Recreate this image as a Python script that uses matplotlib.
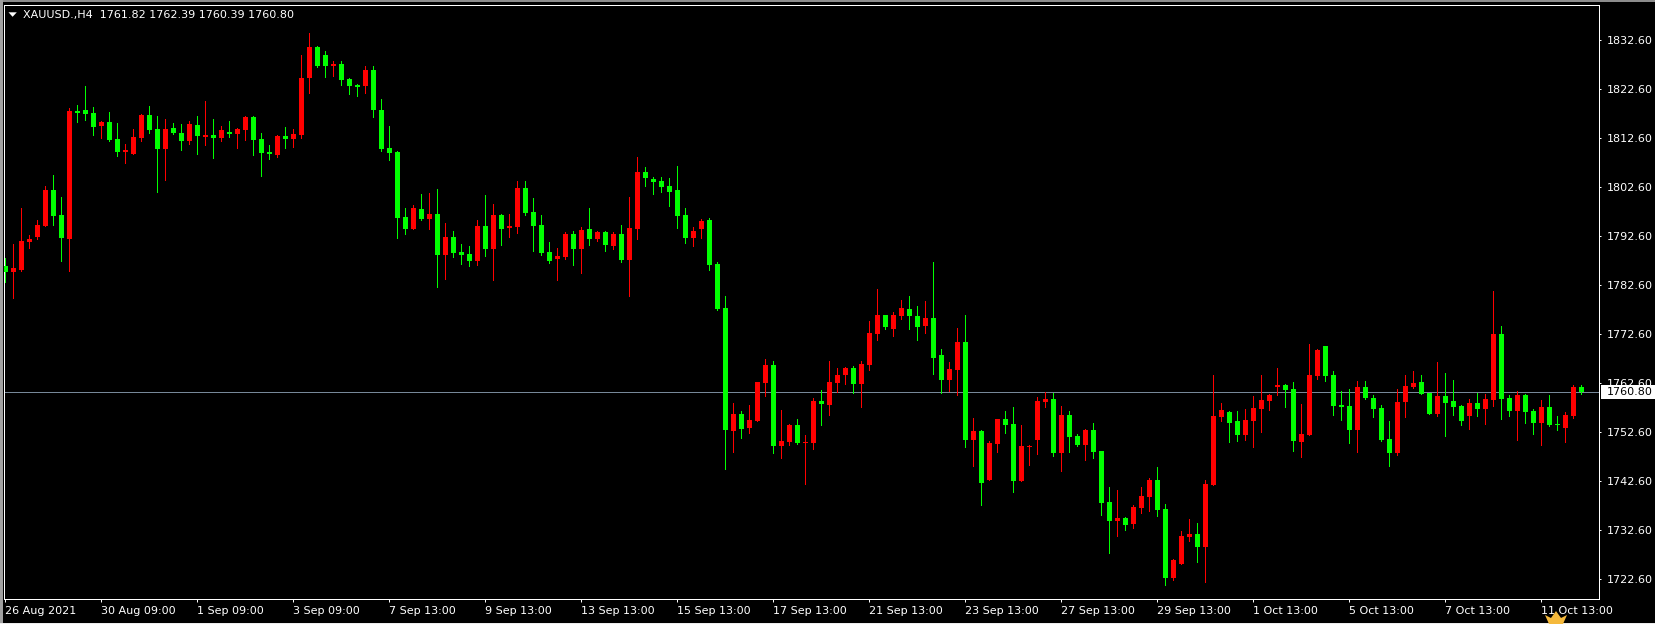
import matplotlib
matplotlib.use("Agg")
import matplotlib.pyplot as plt
from matplotlib.patches import Rectangle, Polygon

# candle colours, one per candle: r = close above open, g = close below open
directions = (
    "g r r r r r g g r g  g g r g g r r r g g  r g g r g r g r g r  r g g g r g r r r g  g r g g g r g g g g"
    " g r g r g r g g g r  g r g r r g g g g r  r g r g r g r g r r  g g g g g g r r g g  g r g r r r g r r g"
    " r r g r r r g r r r  g r r g g r g g r r  g r g r r g g r r r  r g r g g r g g g r  g r r r g g r r r g"
    " r r r g g r r r r r  g g r r r g g g g r  g g g g r r r g g r  g g g r g r r g g r  g g r g g r r g"
).split()

highs = [1788.14,1791.06,1798.41,1792.90,1795.96,1802.90,1805.15,1800.66,1818.82,1819.43,1823.31,1819.02,1816.17,1818.00,1815.76,1811.47,1814.53,1817.59,1819.23,1817.19,1816.57,1815.76,1815.55,1816.17,1817.19,1820.25,1816.57,1815.15,1816.17,1814.74,1817.19,1817.19,1813.72,1811.27,1813.31,1814.94,1814.53,1829.64,1834.13,1831.47,1830.45,1828.41,1828.41,1824.94,1823.72,1827.39,1827.39,1820.66,1815.15,1810.04,
 1798.41,1799.02,1801.27,1801.47,1802.29,1795.35,1793.72,1791.06,1790.66,1795.96,1801.06,1799.23,1797.19,1797.19,1803.92,1803.92,1800.45,1796.98,1791.47,1790.25,1793.51,1793.72,1794.53,1798.41,1793.72,1793.72,1793.51,1794.94,1800.66,1808.82,1806.78,1804.74,1804.74,1804.53,1806.98,1798.41,1794.53,1796.17,1796.37,1787.39,1780.45,1758.61,1756.98,1758.20,1762.90,1767.59,1767.18,1757.18,1754.33,1755.35,
 1752.08,1759.64,1761.27,1767.19,1765.76,1765.96,1766.17,1767.19,1775.35,1781.88,1776.57,1777.19,1779.64,1780.45,1778.41,1779.43,1787.39,1769.64,1766.98,1773.92,1776.57,1755.55,1753.10,1750.86,1755.35,1756.98,1757.80,1754.12,1750.04,1759.84,1760.86,1760.66,1758.00,1756.98,1752.29,1753.31,1754.53,1748.82,1741.47,1740.86,1735.35,1737.80,1741.47,1743.31,1745.55,1738.00,1726.78,1732.49,1734.94,1734.12,
 1742.90,1764.33,1758.62,1756.98,1756.98,1757.39,1760.05,1764.33,1760.45,1765.76,1762.49,1762.90,1758.41,1770.66,1769.64,1770.25,1765.15,1761.07,1761.47,1763.11,1763.11,1760.25,1758.21,1754.94,1761.47,1764.33,1765.15,1764.33,1760.66,1766.98,1764.74,1763.31,1758.21,1759.43,1760.66,1760.45,1781.47,1774.33,1760.25,1761.07,1760.45,1757.39,1759.23,1760.25,1755.96,1756.78,1762.29,1762.39]

body_tops = [1786.57,1786.17,1791.68,1792.08,1794.94,1802.08,1802.08,1796.98,1818.21,1818.21,1818.41,1817.80,1815.96,1815.96,1812.49,1810.25,1812.90,1817.39,1817.39,1814.53,1814.53,1814.74,1813.72,1815.55,1815.35,1813.31,1813.31,1814.33,1813.92,1814.53,1816.98,1816.98,1812.49,1809.84,1813.10,1813.10,1813.51,1824.94,1831.27,1831.27,1829.64,1827.80,1827.80,1824.74,1823.51,1826.57,1826.57,1818.41,1810.66,1809.84,
 1796.57,1798.41,1798.21,1797.19,1797.19,1792.49,1792.49,1789.43,1789.02,1794.74,1794.74,1796.98,1796.98,1794.74,1802.49,1802.49,1797.59,1794.94,1789.43,1788.61,1793.10,1793.10,1793.92,1794.13,1793.51,1793.51,1793.10,1793.10,1794.33,1805.76,1805.76,1804.33,1803.92,1802.90,1802.08,1796.98,1793.72,1795.76,1795.96,1786.98,1778.00,1756.37,1756.37,1755.14,1762.90,1766.37,1766.37,1750.86,1754.12,1754.12,
 1750.66,1759.02,1759.02,1762.90,1764.33,1765.76,1765.76,1766.57,1772.90,1776.57,1776.57,1776.57,1778.00,1777.80,1776.37,1775.96,1775.96,1768.41,1765.55,1771.06,1771.06,1752.90,1752.90,1750.45,1755.35,1755.35,1754.33,1749.84,1749.84,1759.02,1759.43,1759.43,1756.17,1756.17,1751.88,1753.10,1753.10,1748.82,1738.41,1735.15,1735.15,1737.39,1739.64,1742.90,1742.90,1736.98,1726.57,1731.47,1731.88,1731.88,
 1742.09,1755.96,1757.19,1756.78,1754.94,1755.15,1757.60,1759.23,1760.25,1762.29,1762.29,1761.47,1752.29,1764.33,1769.43,1770.25,1764.33,1758.21,1758.00,1761.88,1761.88,1759.64,1757.60,1751.27,1758.82,1762.09,1762.70,1762.90,1760.66,1760.05,1760.05,1759.03,1758.00,1758.62,1758.62,1759.43,1772.70,1772.70,1759.64,1760.25,1760.25,1756.98,1757.80,1757.80,1754.33,1756.17,1761.88,1761.82]

body_bottoms = [1785.28,1785.35,1785.76,1791.47,1792.49,1794.74,1796.78,1792.29,1792.08,1817.80,1817.59,1814.94,1815.15,1812.29,1809.84,1809.84,1809.43,1812.70,1814.33,1810.45,1810.45,1813.72,1812.08,1812.08,1813.10,1812.90,1812.70,1812.70,1813.51,1813.51,1814.33,1812.29,1809.64,1809.43,1809.23,1812.49,1812.49,1813.31,1824.94,1827.39,1827.39,1827.39,1824.53,1823.31,1823.10,1823.31,1818.41,1810.45,1809.64,1796.37,
 1794.13,1794.13,1796.17,1796.17,1788.82,1788.82,1789.23,1788.82,1787.59,1787.59,1790.04,1790.04,1794.13,1794.33,1794.53,1797.39,1794.74,1789.23,1787.59,1788.00,1788.41,1790.04,1790.04,1792.08,1792.08,1790.86,1790.66,1787.80,1787.80,1794.13,1804.53,1803.72,1802.70,1801.68,1796.78,1792.29,1792.29,1794.13,1786.78,1777.80,1753.10,1752.90,1753.31,1753.51,1754.94,1762.69,1749.84,1749.84,1750.65,1750.45,
 1750.45,1750.45,1758.41,1758.21,1762.70,1764.33,1762.49,1762.49,1766.37,1772.70,1774.12,1773.72,1776.37,1776.37,1774.12,1774.33,1767.80,1763.31,1763.31,1765.35,1751.06,1751.06,1742.29,1742.90,1750.25,1754.12,1742.70,1742.70,1749.64,1751.06,1758.82,1748.41,1748.41,1751.68,1750.04,1750.04,1748.61,1738.21,1734.53,1734.53,1733.72,1733.92,1737.19,1739.43,1736.78,1722.90,1722.90,1725.76,1731.27,1729.23,
 1729.23,1741.88,1755.76,1754.54,1752.09,1752.09,1754.94,1757.39,1759.03,1761.88,1761.27,1750.86,1750.66,1752.09,1764.13,1764.13,1758.00,1757.80,1753.11,1753.11,1759.64,1757.39,1751.07,1748.41,1748.41,1758.82,1761.88,1760.45,1756.37,1756.37,1758.62,1757.80,1754.94,1755.96,1757.39,1757.39,1759.23,1759.43,1756.98,1756.98,1756.78,1754.54,1754.54,1754.13,1754.13,1753.52,1755.96,1760.80]

lows = [1783.31,1780.04,1785.55,1790.25,1792.08,1794.74,1794.94,1787.59,1785.55,1815.96,1816.37,1813.31,1812.70,1812.08,1809.02,1807.59,1809.43,1812.08,1813.72,1801.68,1804.13,1813.51,1810.25,1811.47,1809.43,1811.27,1808.62,1812.08,1812.90,1810.66,1812.29,1809.23,1804.94,1808.41,1808.82,1810.66,1810.86,1812.70,1821.88,1827.19,1825.15,1825.35,1823.51,1821.68,1821.27,1821.88,1816.98,1810.04,1808.21,1792.29,
 1793.10,1794.13,1795.96,1794.13,1782.29,1783.92,1788.41,1786.98,1786.57,1786.78,1788.61,1783.72,1790.86,1792.49,1793.31,1796.98,1789.64,1788.82,1787.19,1783.72,1788.00,1786.78,1785.15,1790.86,1791.68,1789.64,1790.04,1787.39,1780.45,1792.08,1802.90,1801.27,1801.68,1798.82,1794.33,1791.27,1790.66,1792.29,1785.76,1777.59,1745.14,1748.61,1751.47,1752.49,1754.94,1760.04,1748.41,1747.39,1750.04,1750.25,
 1742.08,1749.23,1754.12,1756.17,1760.86,1762.49,1760.66,1757.80,1765.35,1771.47,1773.72,1772.29,1775.76,1773.72,1771.47,1772.90,1764.53,1760.66,1761.06,1760.25,1749.64,1745.76,1737.80,1742.90,1748.61,1752.49,1740.45,1742.70,1745.96,1748.21,1757.80,1747.80,1744.74,1748.61,1749.84,1746.98,1747.39,1735.76,1728.00,1731.47,1732.70,1733.10,1736.17,1736.57,1735.55,1721.47,1722.49,1725.76,1730.45,1726.17,
 1722.09,1741.88,1754.94,1750.66,1750.86,1751.07,1749.64,1752.70,1757.19,1760.25,1757.80,1748.82,1747.60,1752.09,1763.52,1763.11,1756.17,1755.15,1750.45,1748.62,1759.43,1755.76,1750.86,1745.76,1748.00,1755.76,1761.68,1760.45,1756.37,1755.96,1751.88,1756.17,1754.13,1753.31,1755.96,1754.33,1758.00,1755.35,1755.96,1751.07,1754.54,1752.29,1750.05,1753.92,1753.11,1750.66,1755.56,1760.39]

assert len(highs) == len(lows) == len(body_tops) == len(body_bottoms) == len(directions) == 198

current_price = 1760.80
y_ticks = [1722.6 + 10 * k for k in range(12)]
x_tick_index = list(range(0, 198, 12))
x_labels = ["26 Aug 2021", "30 Aug 09:00", "1 Sep 09:00", "3 Sep 09:00", "7 Sep 13:00",
            "9 Sep 13:00", "13 Sep 13:00", "15 Sep 13:00", "17 Sep 13:00", "21 Sep 13:00",
            "23 Sep 13:00", "27 Sep 13:00", "29 Sep 13:00", "1 Oct 13:00", "5 Oct 13:00",
            "7 Oct 13:00", "11 Oct 13:00"]
header = "XAUUSD.,H4  1761.82 1762.39 1760.39 1760.80"

W, H = 1656, 624
plt.rcParams["font.family"] = "DejaVu Sans"
fig = plt.figure(figsize=(W / 100, H / 100), dpi=100, facecolor="black")
ax = fig.add_axes([4.5 / W, (H - 598.5) / H, 1595 / W, 594 / H], facecolor="black")

px = 0.72  # one pixel in points
xs = list(range(len(highs)))
cols = ["#FF0000" if d == "r" else "#00FF00" for d in directions]

ax.axhline(current_price, color="#778899", lw=px, zorder=1)
ax.vlines(xs, lows, highs, colors=cols, lw=px, zorder=2, antialiased=False)
ax.bar(xs, [t - b for t, b in zip(body_tops, body_bottoms)], bottom=body_bottoms,
       width=5 / 8, color=cols, linewidth=0, zorder=3, antialiased=False)

ax.set_xlim(-0.125, 199.25)
ax.set_ylim(1718.72, 1839.94)
for s in ax.spines.values():
    s.set_color("white")
    s.set_linewidth(px)

ax.yaxis.tick_right()
ax.set_yticks(y_ticks, [f"{v:.2f}" for v in y_ticks])
ax.tick_params(axis="y", colors="white", length=2 * px, width=px, pad=3.6, labelsize=8)
ax.set_xticks(x_tick_index, x_labels)
ax.tick_params(axis="x", colors="white", length=3 * px, width=px, pad=3, labelsize=8)
for t in ax.get_xticklabels():
    t.set_ha("left")


def rect(x0, y0, x1, y1, color, z=1):
    fig.add_artist(Rectangle((x0 / W, 1 - y1 / H), (x1 - x0) / W, (y1 - y0) / H,
                             transform=fig.transFigure, facecolor=color, edgecolor="none", zorder=z))


rect(0, 0, W, 2, "#8c8c8c")
rect(0, 0, 2.7, H, "#a0a0a0")
rect(0, 622.5, W, H, "#ececec")
rect(1601, 385, W, 399, "white")
fig.text(1606.7 / W, 1 - 392.3 / H, f"{current_price:.2f}", color="black", fontsize=8, va="center", ha="left", zorder=3)
fig.text(22.7 / W, 1 - 14.7 / H, header, color="white", fontsize=8.05, va="center", ha="left", zorder=3)
fig.add_artist(Polygon([(8.5 / W, 1 - 12.3 / H), (16.8 / W, 1 - 12.3 / H), (12.6 / W, 1 - 16.8 / H)],
                       transform=fig.transFigure, facecolor="white", edgecolor="none", zorder=3))
crown = [(1545, 615), (1551, 618), (1556, 611), (1561, 618), (1567, 615), (1563, 624), (1549, 624)]
fig.add_artist(Polygon([(x / W, 1 - y / H) for x, y in crown], transform=fig.transFigure,
                       facecolor="#F5B93C", edgecolor="none", zorder=4))

fig.savefig("out.png", dpi=100, facecolor="black")
